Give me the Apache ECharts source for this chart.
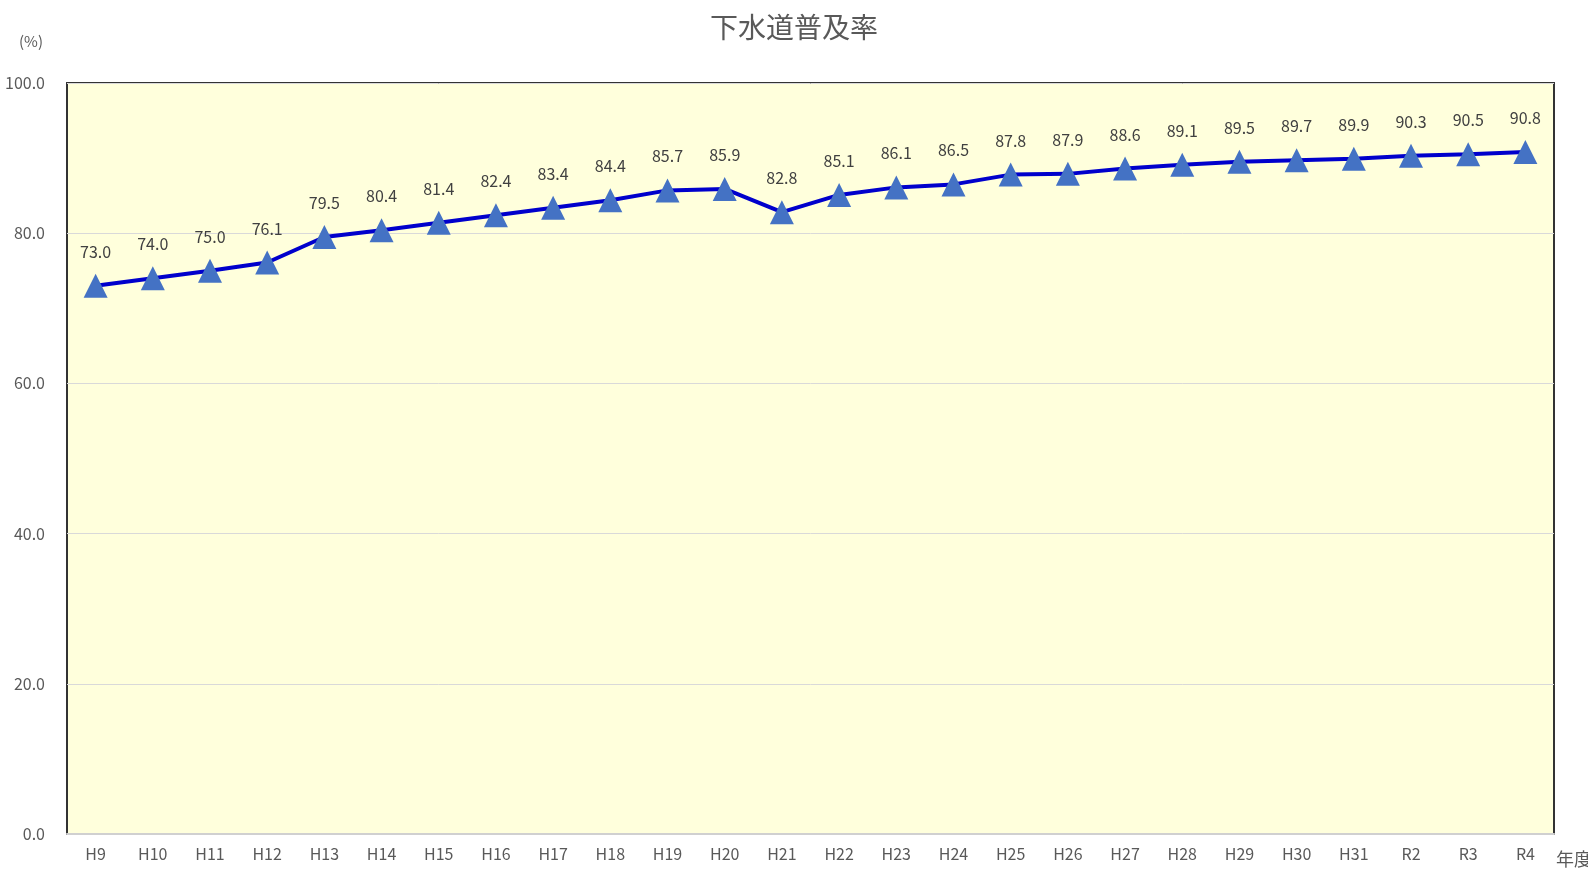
<!DOCTYPE html>
<html>
<head>
<meta charset="utf-8">
<script src="https://cdn.jsdelivr.net/npm/echarts@6/dist/echarts.min.js"></script>
<style>
    html, body { margin: 0; padding: 0; background: #fff; }
    #main { width: 1588px; height: 870px; }
</style>
</head>
<body>
<div id="main"></div>
<script>
// 年度
var years = ['H9', 'H10', 'H11', 'H12', 'H13', 'H14', 'H15', 'H16', 'H17', 'H18', 'H19', 'H20', 'H21',
    'H22', 'H23', 'H24', 'H25', 'H26', 'H27', 'H28', 'H29', 'H30', 'H31', 'R2', 'R3', 'R4'];
// 下水道普及率 (%)
var rates = [73.0, 74.0, 75.0, 76.1, 79.5, 80.4, 81.4, 82.4, 83.4, 84.4, 85.7, 85.9, 82.8,
    85.1, 86.1, 86.5, 87.8, 87.9, 88.6, 89.1, 89.5, 89.7, 89.9, 90.3, 90.5, 90.8];

var font = "'Noto Sans CJK JP', 'Noto Sans', sans-serif";
var myChart = echarts.init(document.getElementById('main'));
var option = {
    animation: false,
    title: {
        text: '下水道普及率',
        left: 'center',
        top: 8,
        textStyle: { fontFamily: font, fontSize: 28, fontWeight: 'normal', color: '#595959' }
    },
    grid: {
        left: 67, right: 34, top: 83, bottom: 36,
        outerBoundsMode: 'none',
        containLabel: false,
        show: true,
        backgroundColor: '#FFFFDC',
        borderColor: '#333333',
        borderWidth: 2
    },
    xAxis: {
        type: 'category',
        data: years,
        boundaryGap: true,
        name: '年度',
        nameLocation: 'end',
        nameGap: 2,
        nameTextStyle: { fontFamily: font, fontSize: 18, color: '#595959', verticalAlign: 'top', padding: [16, 0, 0, 0] },
        axisLine: { lineStyle: { color: '#D0D0D0', width: 2 } },
        axisTick: { show: false },
        axisLabel: { fontFamily: font, fontSize: 16, color: '#595959', margin: 12 }
    },
    yAxis: {
        type: 'value',
        min: 0,
        max: 100,
        interval: 20,
        name: '(%)',
        nameLocation: 'end',
        nameGap: 34,
        nameTextStyle: { fontFamily: font, fontSize: 15, color: '#595959', align: 'right', padding: [0, 24, 0, 0] },
        axisLine: { show: false },
        axisTick: { show: false },
        axisLabel: {
            fontFamily: font, fontSize: 16, color: '#595959', margin: 22,
            formatter: function(v) { return v.toFixed(1); }
        },
        splitLine: { lineStyle: { color: '#D9D9D9', width: 1 } }
    },
    series: [{
        type: 'line',
        data: rates,
        lineStyle: { color: '#0000CC', width: 4 },
        symbol: 'triangle',
        symbolSize: 24,
        itemStyle: { color: '#4472C4' },
        label: {
            show: true,
            position: 'top',
            distance: 14,
            fontFamily: font,
            fontSize: 16,
            color: '#404040',
            formatter: function(p) { return p.value.toFixed(1); }
        }
    }]
};
myChart.setOption(option);
</script>
</body>
</html>
